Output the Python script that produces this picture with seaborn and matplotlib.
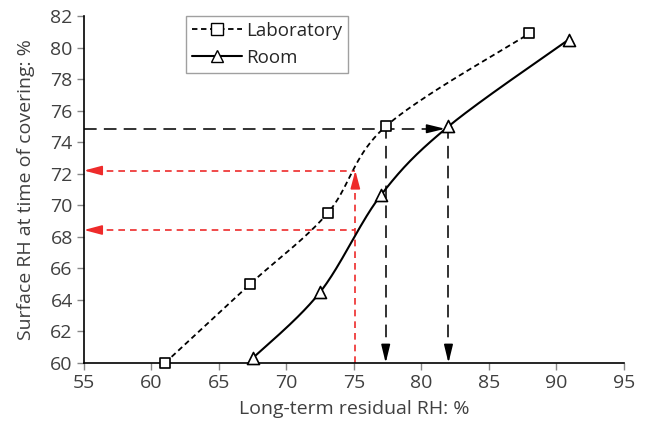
import numpy as np
import pandas as pd
import matplotlib
matplotlib.use("Agg")
import matplotlib.pyplot as plt
import seaborn as sns
from matplotlib.lines import Line2D

# ---- data ----
lab_x = [61.0, 67.3, 73.05, 77.35, 88.0]
lab_y = [60.0, 65.0, 69.5, 75.0, 80.9]
room_x = [67.5, 72.5, 77.0, 82.0, 90.9]
room_y = [60.3, 64.5, 70.65, 75.0, 80.5]

# guide arrows
black_level_y = 74.85
black_level_tip_x = 81.75
black_drop_x = [77.35, 82.0]
black_drop_top = 75.0
red_x = 75.1
red_levels = [72.2, 68.43]

x_ticks = list(range(55, 96, 5))
y_ticks = list(range(60, 83, 2))

sns.set_theme(style="white")
plt.rcParams["font.family"] = ["Open Sans", "DejaVu Sans"]

fig = plt.figure(figsize=(6.51, 4.28), dpi=100)
ax = fig.add_axes([0.129, 0.152, 0.8295, 0.8106])
ax.set_xlim(55, 95)
ax.set_ylim(60, 82)


def smooth(xs, ys, n=40):
    # Catmull-Rom style Bezier smoothing in display space (like spreadsheet smoothed lines)
    pts = ax.transData.transform(np.column_stack([xs, ys]))
    out = []
    m = len(pts)
    for i in range(m - 1):
        p0 = pts[i - 1] if i > 0 else pts[i]
        p1 = pts[i]
        p2 = pts[i + 1]
        p3 = pts[i + 2] if i + 2 < m else pts[i + 1]
        c1 = p1 + (p2 - p0) / 6.0
        c2 = p2 - (p3 - p1) / 6.0
        t = np.linspace(0, 1, n)[:, None]
        seg = ((1 - t) ** 3) * p1 + 3 * ((1 - t) ** 2) * t * c1 + 3 * (1 - t) * t ** 2 * c2 + t ** 3 * p2
        out.append(seg if i == 0 else seg[1:])
    out = np.vstack(out)
    d = ax.transData.inverted().transform(out)
    return d[:, 0], d[:, 1]


red = "#EE2B2B"
dark = "#222222"
head_red = "-|>,head_length=0.9,head_width=0.24"
head_blk = "-|>,head_length=0.9,head_width=0.22"

ax.plot([red_x, red_x], [60, red_levels[0] - 0.6], color=red, lw=1.2, ls=(0, (4, 3)))
ax.annotate("", xy=(red_x, red_levels[0]), xytext=(red_x, red_levels[0] - 1.0),
            arrowprops=dict(arrowstyle=head_red, color=red, lw=1.2, shrinkA=0, shrinkB=0))
for lv in red_levels:
    ax.plot([55.8, red_x], [lv, lv], color=red, lw=1.2, ls=(0, (4, 3)))
    ax.annotate("", xy=(55, lv), xytext=(56.2, lv),
                arrowprops=dict(arrowstyle=head_red, color=red, lw=1.2, shrinkA=0, shrinkB=0))

ax.plot([55, black_level_tip_x - 0.9], [black_level_y, black_level_y], color=dark, lw=1.3, ls=(0, (7, 4)))
ax.annotate("", xy=(black_level_tip_x, black_level_y), xytext=(black_level_tip_x - 1.2, black_level_y),
            arrowprops=dict(arrowstyle=head_blk, color="black", lw=1.2, shrinkA=0, shrinkB=0))
for bx in black_drop_x:
    ax.plot([bx, bx], [black_drop_top, 61.0], color=dark, lw=1.3, ls=(0, (7, 4)))
    ax.annotate("", xy=(bx, 60), xytext=(bx, 61.1),
                arrowprops=dict(arrowstyle=head_blk, color="black", lw=1.2, shrinkA=0, shrinkB=0))

# curves
lx, ly = smooth(lab_x, lab_y)
rx, ry = smooth(room_x, room_y)
sns.lineplot(x=lx, y=ly, ax=ax, color="black", lw=1.3, linestyle=(0, (3, 2)), sort=False, estimator=None)
sns.lineplot(x=rx, y=ry, ax=ax, color="black", lw=1.5, sort=False, estimator=None)

sns.scatterplot(x=lab_x, y=lab_y, ax=ax, marker="s", s=60, facecolor="white", edgecolor="black",
                linewidth=1.2, zorder=5, clip_on=False)
sns.scatterplot(x=room_x, y=room_y, ax=ax, marker="^", s=75, facecolor="white", edgecolor="black",
                linewidth=1.2, zorder=5, clip_on=False)

ax.set_xlim(55, 95)
ax.set_ylim(60, 82)
ax.set_xticks(x_ticks)
ax.set_yticks(y_ticks)

for s in ["top", "right"]:
    ax.spines[s].set_visible(False)
for s in ["left", "bottom"]:
    ax.spines[s].set_color("black")
    ax.spines[s].set_linewidth(1.2)

ax.tick_params(axis="both", which="major", direction="out", length=5, width=1, color="#888888",
               labelsize=14, labelcolor="#404040", pad=3, bottom=True, left=True)
ax.set_xlabel("Long-term residual RH: %", fontsize=14, color="#404040", labelpad=6)
ax.set_ylabel("Surface RH at time of covering: %", fontsize=14, color="#404040", labelpad=11)

handles = [
    Line2D([], [], color="black", lw=1.3, ls=(0, (3, 2)), marker="s", markersize=8,
           markerfacecolor="white", markeredgecolor="black"),
    Line2D([], [], color="black", lw=1.5, marker="^", markersize=8,
           markerfacecolor="white", markeredgecolor="black"),
]
leg = ax.legend(handles, ["Laboratory", "Room"], loc="upper left", bbox_to_anchor=(0.189, 1.0),
                borderaxespad=0, fontsize=13.5, frameon=True, fancybox=False, edgecolor="#888888",
                handlelength=2.7, handletextpad=0.2, labelspacing=0.5, borderpad=0.3)
leg.get_frame().set_linewidth(1.0)

fig.savefig("out.png", dpi=100)
